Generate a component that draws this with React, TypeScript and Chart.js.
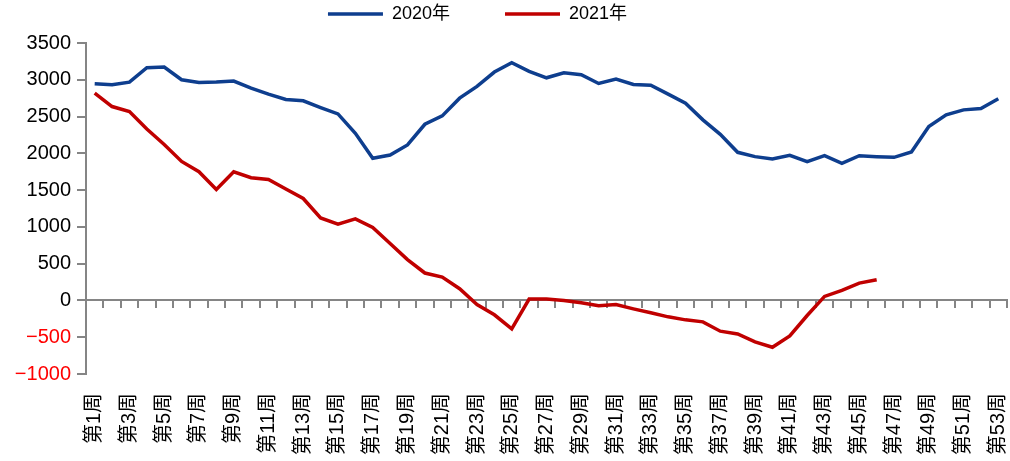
import React, { useEffect, useRef } from "react";
import { Chart, registerables } from "chart.js";

Chart.register(...registerables);

const weeks = [
  "第1周", "第2周", "第3周", "第4周", "第5周", "第6周", "第7周", "第8周", "第9周", "第10周",
  "第11周", "第12周", "第13周", "第14周", "第15周", "第16周", "第17周", "第18周", "第19周", "第20周",
  "第21周", "第22周", "第23周", "第24周", "第25周", "第26周", "第27周", "第28周", "第29周", "第30周",
  "第31周", "第32周", "第33周", "第34周", "第35周", "第36周", "第37周", "第38周", "第39周", "第40周",
  "第41周", "第42周", "第43周", "第44周", "第45周", "第46周", "第47周", "第48周", "第49周", "第50周",
  "第51周", "第52周", "第53周",
];

const series2020 = [
  2945, 2932, 2968, 3164, 3173, 3000, 2964, 2970, 2982, 2886,
  2805, 2732, 2714, 2623, 2536, 2273, 1932, 1977, 2114, 2395,
  2509, 2750, 2909, 3105, 3232, 3114, 3027, 3095, 3068, 2950,
  3009, 2936, 2927, 2805, 2682, 2455, 2259, 2014, 1955, 1923,
  1973, 1886, 1968, 1864, 1968, 1955, 1946, 2018, 2364, 2523,
  2591, 2609, 2741,
];

const series2021: (number | null)[] = [
  2818, 2636, 2568, 2330, 2120, 1890, 1750, 1509, 1750, 1668,
  1645, 1514, 1386, 1122, 1036, 1109, 991, 773, 555, 373,
  318, 159, -55, -195, -386, 18, 18, 0, -32, -73,
  -55, -114, -168, -223, -264, -291, -418, -455, -564, -636,
  -482, -205, 55, 136, 236, 282, null, null, null, null,
  null, null, null,
];

const seriesNames = ["2020年", "2021年"];
const seriesColors = ["#0E3E8E", "#C00000"];

const yMin = -1000;
const yMax = 3500;
const yStep = 500;

const FONT = '"Liberation Sans", "Noto Sans CJK SC", sans-serif';

export default function App() {
  const ref = useRef<HTMLCanvasElement | null>(null);

  useEffect(() => {
    if (!ref.current) return;
    const chart = new Chart(ref.current, {
      type: "line",
      data: {
        labels: weeks,
        datasets: [
          {
            label: seriesNames[0],
            data: series2020,
            borderColor: seriesColors[0],
            backgroundColor: seriesColors[0],
            borderWidth: 3.5,
            pointRadius: 0,
            tension: 0,
            xAxisID: "x",
            yAxisID: "y",
          },
          {
            label: seriesNames[1],
            data: series2021,
            borderColor: seriesColors[1],
            backgroundColor: seriesColors[1],
            borderWidth: 3.5,
            pointRadius: 0,
            tension: 0,
            spanGaps: false,
            xAxisID: "x",
            yAxisID: "y",
          },
        ],
      },
      options: {
        animation: false,
        responsive: true,
        maintainAspectRatio: false,
        layout: { padding: { top: -50, right: 3, bottom: 0, left: -52 } },
        plugins: {
          tooltip: { enabled: false },
          legend: {
            position: "top",
            align: "center",
            labels: {
              boxWidth: 55,
              boxHeight: 0,
              padding: 55,
              color: "#000000",
              font: { family: FONT, size: 18 },
            },
          },
        },
        scales: {
          xTop: {
            type: "category",
            position: "top",
            offset: true,
            grid: { display: false, drawTicks: false },
            border: { display: false },
            ticks: { display: false },
            afterFit: (s: any) => {
              s.height = 10;
            },
          },
          x: {
            type: "category",
            position: "bottom",
            offset: true,
            grid: { display: false, drawTicks: false, offset: true },
            border: { display: false },
            ticks: {
              autoSkip: false,
              maxRotation: 90,
              minRotation: 90,
              padding: 19,
              color: "#000000",
              font: { family: FONT, size: 20 },
              callback: function (_v: any, i: number) {
                return i % 2 === 0 ? weeks[i] : "";
              },
            },
            afterFit: (s: any) => {
              s.height = 87;
              s.paddingLeft = 0;
              s.paddingRight = 0;
            },
          },
          xZero: {
            type: "category",
            position: { y: 0 } as any,
            offset: true,
            grid: {
              display: true,
              offset: true,
              drawOnChartArea: false,
              drawTicks: true,
              tickLength: 7,
              color: "#858585",
              lineWidth: 2,
            },
            border: { display: true, color: "#858585", width: 2 },
            ticks: { display: false },
          },
          y: {
            type: "linear",
            position: "left",
            min: yMin,
            max: yMax,
            grid: {
              display: true,
              drawOnChartArea: false,
              drawTicks: true,
              tickLength: 9,
              color: "#858585",
              lineWidth: 2,
            },
            border: { display: true, color: "#858585", width: 2 },
            ticks: {
              stepSize: yStep,
              padding: 6,
              font: { family: FONT, size: 20 },
              color: (ctx: any) => (ctx.tick && ctx.tick.value < 0 ? "#FF0000" : "#000000"),
              callback: (v: any) => {
                const n = Number(v);
                return n < 0 ? "\u2212" + String(-n) : String(n);
              },
            },
            afterFit: (s: any) => {
              s.width = 138;
            },
          },
        },
      },
    });
    return () => chart.destroy();
  }, []);

  return (
    <div style={{ position: "fixed", left: 0, top: 0, width: 1010, height: 461, background: "#ffffff" }}>
      <canvas ref={ref} />
    </div>
  );
}
